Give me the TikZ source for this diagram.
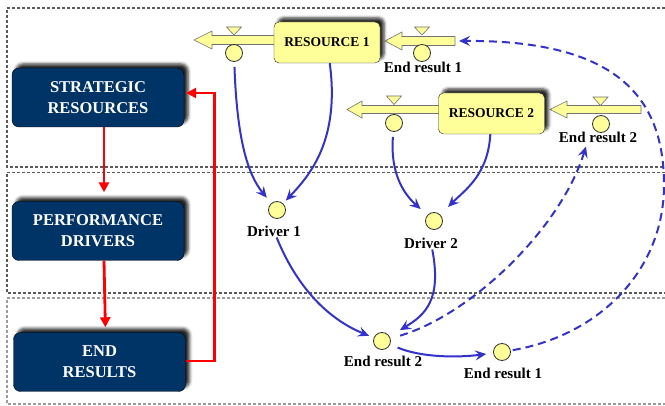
\documentclass[tikz,border=0pt]{standalone}
\usepackage{fontspec}
\setmainfont{Liberation Serif}
\usetikzlibrary{arrows.meta,shadows.blur}
\definecolor{navy}{RGB}{0,51,102}
\definecolor{stockyellow}{RGB}{255,255,153}
\definecolor{linkblue}{RGB}{51,51,204}
\definecolor{panelgray}{RGB}{90,90,90}
\tikzset{
  tier/.style={draw=black, fill=navy, rounded corners=7pt, minimum width=172pt, minimum height=59pt,
    text=white, align=center, font=\fontsize{16.5}{21}\selectfont\bfseries,
    blur shadow={shadow xshift=4pt, shadow yshift=4pt, shadow opacity=85, shadow blur radius=3pt}},
  stock/.style={draw=black!85, fill=stockyellow, rounded corners=5pt, minimum width=106pt, minimum height=41pt,
    font=\fontsize{13.5}{16}\selectfont\bfseries,
    blur shadow={shadow xshift=4pt, shadow yshift=4pt, shadow opacity=85, shadow blur radius=3pt}},
  aux/.style={circle, draw=black!80, fill=stockyellow, minimum size=17pt, inner sep=0pt, line width=0.8pt},
  lbl/.style={font=\fontsize{15}{17}\selectfont\bfseries, inner sep=1pt},
  pipe/.style={draw=black!55, fill=stockyellow, line width=0.6pt},
  valvetop/.style={draw=black!55, fill=stockyellow, line width=0.6pt},
  link/.style={draw=linkblue, line width=2pt, -{Stealth[length=11pt,width=10pt,inset=4pt]}},
  feedback/.style={link, dash pattern=on 8pt off 5pt},
  redflow/.style={draw=red, line width=2.8pt, -{Triangle[length=10pt,width=10pt]}},
  panel/.style={draw=panelgray, dash pattern=on 3pt off 2pt, line width=1.2pt},
}
\begin{document}
\begin{tikzpicture}[x=1pt,y=-1pt]
\useasboundingbox (0,0) rectangle (665,406);
\clip (0,0) rectangle (665,406);
% dashed panels
\draw[panel] (680,8) -- (7,8) -- (7,167) -- (680,167);
\draw[panel] (680,172.5) -- (7,172.5) -- (7,293) -- (680,293);
\draw[panel, draw=panelgray!60] (680,298) -- (7,298) -- (7,404) -- (680,404);

% left column
\node[tier] (strat) at (98,97.5) {STRATEGIC\\RESOURCES};
\node[tier] (perf) at (98,231) {PERFORMANCE\\DRIVERS};
\node[tier] (endres) at (99.5,362) {END\\RESULTS};
\draw[redflow, shorten >=9pt] ([xshift=6pt]strat.south) -- ([xshift=6pt]perf.north);
\draw[redflow, shorten >=5pt] ([xshift=6pt]perf.south) -- ([xshift=6pt]endres.north);
\draw[redflow, shorten >=2pt] ([yshift=1pt]endres.east) -- ++(29,0) |- ([yshift=4.5pt]strat.east);

% flows of resource 1
\draw[pipe] (274,35.5) -- (212,35.5) -- (212,31) -- (194,40) -- (212,49) -- (212,44.5) -- (274,44.5);
\draw[pipe] (455,36.5) -- (402,36.5) -- (402,32) -- (385,41) -- (402,50) -- (402,45.5) -- (455,45.5) -- cycle;
\coordinate (src1) at (455,41);
\draw[valvetop] (226.5,27) -- (241.5,27) -- (234,35) -- cycle;
\draw[valvetop] (414.5,27) -- (429.5,27) -- (422,35) -- cycle;
\node[aux] (v1out) at (234,53) {};
\node[aux] (v1in) at (422,53) {};
\node[stock] (res1) at (327,42.5) {RESOURCE 1};
\node[lbl] (er1top) at (423,67) {End result 1};

% flows of resource 2
\draw[pipe] (439,105.5) -- (362,105.5) -- (362,101) -- (347,109.5) -- (362,118) -- (362,113.5) -- (439,113.5);
\draw[pipe] (641,105.5) -- (567,105.5) -- (567,101) -- (550,109.5) -- (567,118) -- (567,113.5) -- (641,113.5) -- cycle;
\draw[valvetop] (386.5,96) -- (401.5,96) -- (394,104.5) -- cycle;
\draw[valvetop] (593,97) -- (608,97) -- (600.5,105.5) -- cycle;
\node[aux] (v2out) at (394,123) {};
\node[aux] (v2in) at (601,124) {};
\node[stock] (res2) at (491.5,113.5) {RESOURCE 2};
\node[lbl] (er2top) at (598,137) {End result 2};

% drivers and end results
\node[aux] (drv1) at (277,210) {};
\node[lbl] (drv1lbl) at (274,231) {Driver 1};
\node[aux] (drv2) at (434,221) {};
\node[lbl] (drv2lbl) at (431,243) {Driver 2};
\node[aux] (er2) at (382,341) {};
\node[lbl] (er2lbl) at (383,361) {End result 2};
\node[aux] (er1) at (502,352) {};
\node[lbl] (er1lbl) at (503,373) {End result 1};

% links
\draw[link, shorten <=5pt, shorten >=7pt] (v1out) .. controls (237,140) and (248,175) .. (drv1);
\draw[link, shorten >=4pt] (res1) .. controls (340,140) and (310,175) .. (drv1);
\draw[link, shorten <=5pt, shorten >=9pt] (v2out) .. controls (390,175) and (405,195) .. (drv2);
\draw[link, shorten >=11pt] (res2) .. controls (488,175) and (465,190) .. (drv2);
\draw[link, shorten >=5pt] (drv1lbl) .. controls (300,295) and (335,322) .. (er2);
\draw[link, shorten >=12pt] (drv2lbl) .. controls (442,300) and (425,315) .. (er2);
\draw[link, shorten <=8pt, shorten >=7pt] (er2) .. controls (420,357) and (455,358) .. (er1);
\draw[feedback, shorten <=10pt] (er2) .. controls (470,315) and (560,230) .. ([xshift=-12pt,yshift=-3pt]er2top.south);
\draw[feedback, shorten <=2pt, shorten >=4pt] (er1) .. controls (600,335) and (664,270) .. (664,185)
  .. controls (664,100) and (620,40) .. (src1);
\end{tikzpicture}
\end{document}
